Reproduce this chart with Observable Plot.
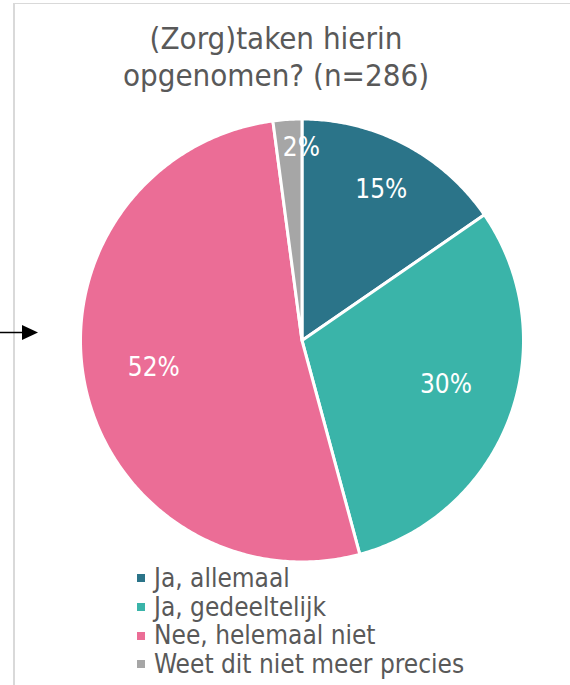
<!DOCTYPE html>
<html>
<head>
<meta charset="utf-8">
<script src="https://cdn.jsdelivr.net/npm/d3@7"></script>
<script src="https://cdn.jsdelivr.net/npm/@observablehq/plot@0.6"></script>
<style>
  html, body { margin: 0; padding: 0; background: #fff; }
  #wrap { position: relative; width: 570px; height: 685px; overflow: hidden;
          font-family: "DejaVu Sans Condensed", "DejaVu Sans", sans-serif; color: #595959; }
  #frame-top { position: absolute; left: 13px; top: 3px; width: 557px; height: 1px; background: #d9d9d9; }
  #frame-left { position: absolute; left: 13px; top: 3px; width: 2px; height: 682px; background: #d9d9d9; }
  #title { position: absolute; left: 0; width: 552px; top: 20px; text-align: center;
           font-size: 31px; line-height: 37px; }
  #legend { position: absolute; left: 137px; top: 564px; font-size: 26px; line-height: 28.7px; }
  #legend .item { display: flex; align-items: center; white-space: nowrap; }
  #legend .sw { width: 8px; height: 8px; margin-right: 9px; flex: none; }
  #plot { position: absolute; left: 0; top: 0; }
  #arrow { position: absolute; left: 0; top: 320px; }
</style>
</head>
<body>
<div id="wrap">
  <div id="plot"></div>
  <div id="frame-top"></div>
  <div id="frame-left"></div>
  <div id="title"></div>
  <div id="legend"></div>
  <svg id="arrow" width="40" height="26">
    <line x1="0" y1="12.5" x2="24" y2="12.5" stroke="#000" stroke-width="1.5"></line>
    <polygon points="22,5 38,12.5 22,20" fill="#000"></polygon>
  </svg>
</div>
<script>
// ---- data ----
const titleLines = ["(Zorg)taken hierin", "opgenomen? (n=286)"];
const categories = ["Ja, allemaal", "Ja, gedeeltelijk", "Nee, helemaal niet", "Weet dit niet meer precies"];
const values = [15.4, 30.4, 52.1, 2.1];
const valueLabels = ["15%", "30%", "52%", "2%"];
const colors = ["#2b7489", "#3ab4a9", "#eb6d96", "#a6a6a6"];

// ---- layout (not data) ----
const labelRadius = [0.77, 0.68, 0.68, 0.87];
const labelShiftDeg = [0, -3, 1, 3.6];

const pie = d3.pie().sort(null).value(d => d)(values);

// polygon vertices for each slice in unit-circle coordinates
const slicePts = [];
pie.forEach((p, i) => {
  const cat = categories[i];
  slicePts.push({cat, x: 0, y: 0});
  const n = Math.max(2, Math.ceil((p.endAngle - p.startAngle) / 0.01));
  for (let k = 0; k <= n; k++) {
    const a = p.startAngle + (p.endAngle - p.startAngle) * k / n;
    slicePts.push({cat, x: Math.sin(a), y: Math.cos(a)});
  }
  slicePts.push({cat, x: 0, y: 0});
});

const labelPts = pie.map((p, i) => {
  const a = (p.startAngle + p.endAngle) / 2 + labelShiftDeg[i] * Math.PI / 180;
  return {label: valueLabels[i], x: labelRadius[i] * Math.sin(a), y: labelRadius[i] * Math.cos(a)};
});

const chart = Plot.plot({
  width: 570,
  height: 685,
  marginLeft: 80,
  marginRight: 47,
  marginTop: 118.5,
  marginBottom: 123.5,
  x: {domain: [-1, 1], axis: null},
  y: {domain: [-1, 1], axis: null},
  color: {domain: categories, range: colors},
  style: {fontFamily: '"DejaVu Sans Condensed", "DejaVu Sans", sans-serif', background: "transparent"},
  marks: [
    Plot.line(slicePts, {x: "x", y: "y", z: "cat", fill: "cat", stroke: "#fff", strokeWidth: 3, strokeLinejoin: "round"}),
    Plot.text(labelPts, {x: "x", y: "y", text: "label", fill: "#fff", fontSize: 26})
  ]
});
document.getElementById("plot").append(chart);

document.getElementById("title").innerHTML = titleLines.map(t => `<div>${t}</div>`).join("");
const legend = document.getElementById("legend");
categories.forEach((c, i) => {
  const item = document.createElement("div");
  item.className = "item";
  item.innerHTML = `<span class="sw" style="background:${colors[i]}"></span><span>${c}</span>`;
  legend.append(item);
});
</script>
</body>
</html>
